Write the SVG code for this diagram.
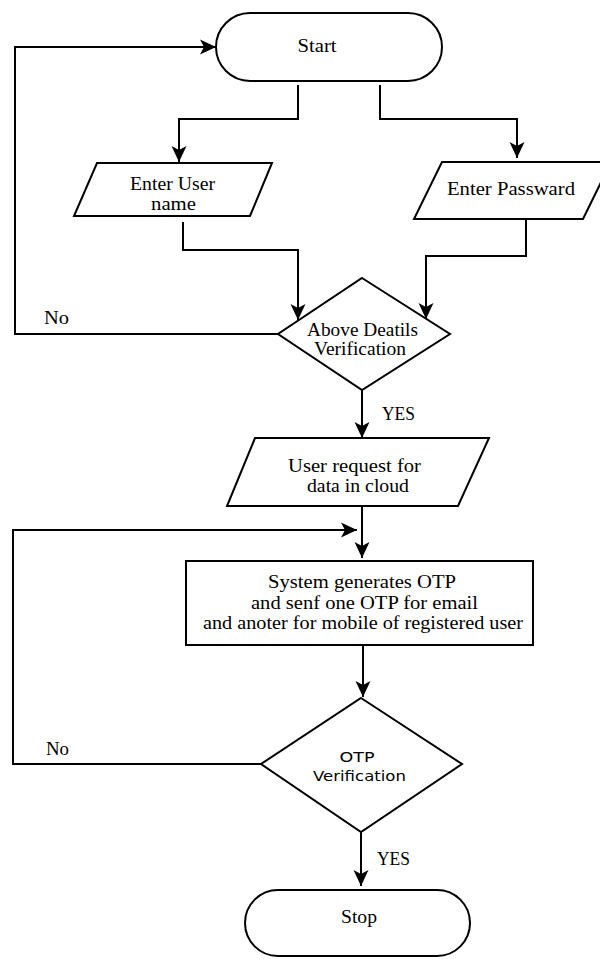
<svg xmlns="http://www.w3.org/2000/svg" width="600" height="959" viewBox="0 0 600 959">
<style>
.shape{fill:#fff;stroke:#000;stroke-width:2;stroke-linejoin:miter}
.conn{fill:none;stroke:#000;stroke-width:2;marker-end:url(#arrow)}
.t{font-family:'Liberation Serif','DejaVu Serif','Times New Roman',Times,serif;font-size:18px;fill:#000}
.s{font-family:'DejaVu Sans',Verdana,sans-serif;font-size:14px;fill:#000}
</style>
<defs>
<marker id="arrow" markerUnits="userSpaceOnUse" viewBox="0 0 16 16" refX="16" refY="8" markerWidth="16" markerHeight="16" orient="auto">
<path d="M0,0.5 L16,8 L0,15.5 L4,8 Z" fill="#000"/>
</marker>
</defs>
<rect width="600" height="959" fill="#fff"/>
<g id="connectors">
<path class="conn" d="M298,85 V119 H179 V162"/>
<path class="conn" d="M380,85 V119 H517 V158"/>
<path class="conn" d="M183,222 V250 H298 V320"/>
<path class="conn" d="M526,220 V256 H426 V319"/>
<path class="conn" d="M278,334 H15 V47 H216"/>
<path class="conn" d="M362,390 V438"/>
<path class="conn" d="M362,506 V558"/>
<path class="conn" d="M261,764 H13 V530 H357"/>
<path class="conn" d="M363,645 V697"/>
<path class="conn" d="M361,832 V886"/>
<g id="edge-labels">
<text class="t" font-family="Liberation Serif, DejaVu Serif, serif" x="44" y="324" textLength="25" lengthAdjust="spacingAndGlyphs">No</text>
<text class="t" font-family="Liberation Serif, DejaVu Serif, serif" x="382" y="420" textLength="33" lengthAdjust="spacingAndGlyphs">YES</text>
<text class="t" font-family="Liberation Serif, DejaVu Serif, serif" x="46" y="755" textLength="23" lengthAdjust="spacingAndGlyphs">No</text>
<text class="t" font-family="Liberation Serif, DejaVu Serif, serif" x="377" y="865" textLength="33" lengthAdjust="spacingAndGlyphs">YES</text>
</g>
</g>
<g id="start">
<rect class="shape" x="216" y="13" width="226" height="68" rx="34" ry="34"/>
<text class="t" x="297.5" y="52" textLength="39" lengthAdjust="spacingAndGlyphs">Start</text>
</g>
<g id="enter-user">
<polygon class="shape" points="97,163 272,163 250,216 74,216"/>
<text class="t" x="130" y="190" textLength="85" lengthAdjust="spacingAndGlyphs">Enter User</text>
<text class="t" x="151" y="210" textLength="45" lengthAdjust="spacingAndGlyphs">name</text>
</g>
<g id="enter-password">
<polygon class="shape" points="442,162 611,162 583,219 414,219"/>
<text class="t" x="447" y="195" textLength="128" lengthAdjust="spacingAndGlyphs">Enter Passward</text>
</g>
<g id="details-verification">
<polygon class="shape" points="362,278 450,334 362,390 278,334"/>
<text class="t" x="307" y="336" textLength="111" lengthAdjust="spacingAndGlyphs">Above Deatils</text>
<text class="t" x="314" y="355" textLength="92" lengthAdjust="spacingAndGlyphs">Verification</text>
</g>
<g id="user-request">
<polygon class="shape" points="255,438 489,438 458,506 227,506"/>
<text class="t" x="288" y="472" textLength="133" lengthAdjust="spacingAndGlyphs">User request for</text>
<text class="t" x="307" y="492" textLength="102" lengthAdjust="spacingAndGlyphs">data in cloud</text>
</g>
<g id="generate-otp">
<rect class="shape" x="186" y="561" width="347" height="84"/>
<text class="t" x="268" y="588" textLength="188" lengthAdjust="spacingAndGlyphs">System generates OTP</text>
<text class="t" x="251" y="609" textLength="227" lengthAdjust="spacingAndGlyphs">and senf one OTP for email</text>
<text class="t" x="203" y="629" textLength="320" lengthAdjust="spacingAndGlyphs">and anoter for mobile of registered user</text>
</g>
<g id="otp-verification">
<polygon class="shape" points="361,698 462,764 361,832 261,764"/>
<text class="s" x="339.5" y="762" textLength="35" lengthAdjust="spacingAndGlyphs">OTP</text>
<text class="s" x="313" y="781" textLength="93" lengthAdjust="spacingAndGlyphs">Verification</text>
</g>
<g id="stop">
<rect class="shape" x="245" y="890" width="225" height="66" rx="33" ry="33"/>
<text class="t" x="341" y="923" textLength="36" lengthAdjust="spacingAndGlyphs">Stop</text>
</g>
</svg>
